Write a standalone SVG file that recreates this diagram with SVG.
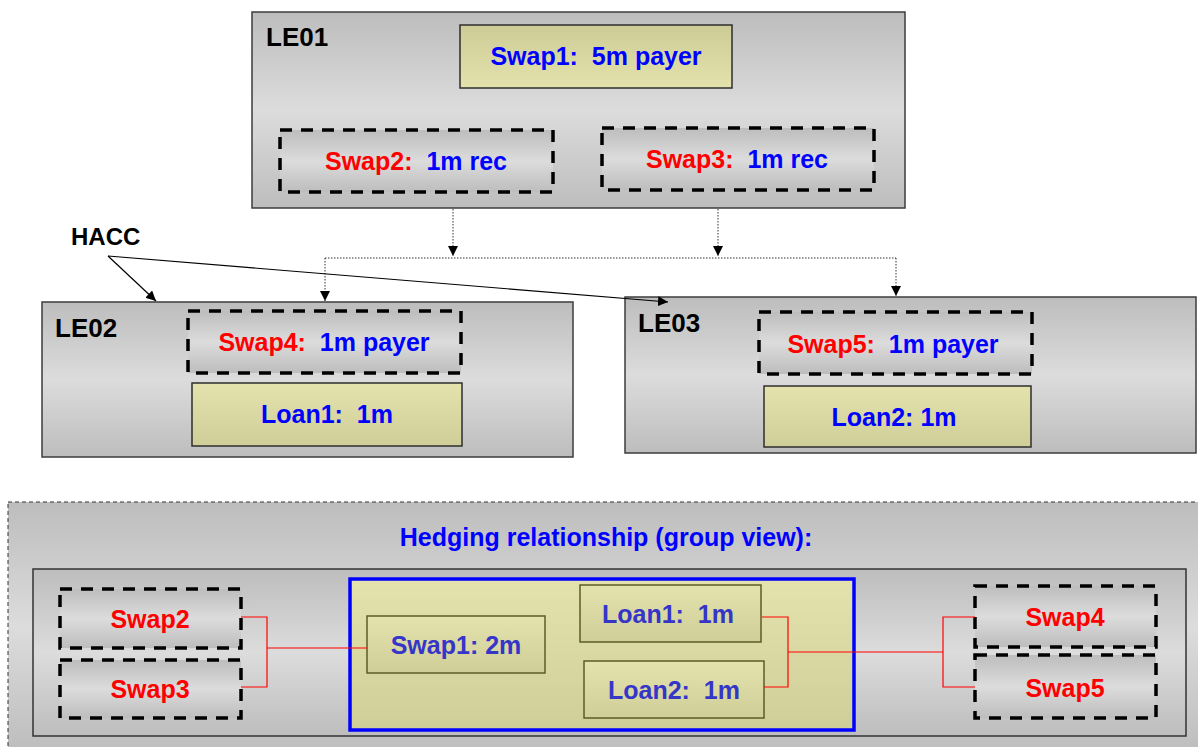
<svg xmlns="http://www.w3.org/2000/svg" width="1198" height="747" viewBox="0 0 1198 747">
<defs>
<linearGradient id="gGray" x1="0" y1="0" x2="0" y2="1">
<stop offset="0" stop-color="#bdbdbd"/><stop offset="0.5" stop-color="#dcdcdc"/><stop offset="1" stop-color="#bdbdbd"/>
</linearGradient>
<linearGradient id="gKhakiUp" x1="0" y1="0" x2="0" y2="1">
<stop offset="0" stop-color="#cdcb96"/><stop offset="1" stop-color="#e3e2ad"/>
</linearGradient>
<linearGradient id="gKhakiDown" x1="0" y1="0" x2="0" y2="1">
<stop offset="0" stop-color="#e4e3ae"/><stop offset="1" stop-color="#cfcd98"/>
</linearGradient>
<marker id="arr" markerWidth="10" markerHeight="10" viewBox="0 0 10 10" refX="10" refY="5" orient="auto" markerUnits="userSpaceOnUse">
<path d="M0,0 L10,5 L0,10 z" fill="#000"/>
</marker>
</defs>
<style>
text{font-family:"Liberation Sans",Arial,sans-serif;font-weight:bold;white-space:pre;}
.le{fill:url(#gGray);stroke:#3c3c3c;stroke-width:1.5;}
.dash{fill:url(#gGray);stroke:#000;stroke-width:3.5;stroke-dasharray:12 9;}
.kh{fill:url(#gKhakiUp);stroke:#2e2e2e;stroke-width:1.5;}
.khd{fill:url(#gKhakiDown);stroke:#2e2e2e;stroke-width:1.5;}
.khb{fill:url(#gKhakiDown);stroke:#5c5c2a;stroke-width:1.5;}
.t{font-size:25px;text-anchor:middle;}
.lbl{font-size:26px;fill:#000;}
.red{fill:#ff0000;}
.blue{fill:#0000ff;}
.mb{fill:#3535c8;}
.dot{stroke:#333;stroke-width:1;stroke-dasharray:1.5 1.5;fill:none;}
.solid{stroke:#000;stroke-width:1.2;fill:none;}
.rl{stroke:#ff0000;stroke-width:1.2;fill:none;}
</style>

<g id="LE01">
<rect class="le" x="252" y="12" width="653" height="196"/>
<text class="lbl" x="266" y="46">LE01</text>
</g>
<g id="Swap1-top">
<rect class="kh" x="460" y="25" width="272" height="63"/>
<text class="t blue" x="596" y="65" xml:space="preserve">Swap1:  5m payer</text>
</g>
<g id="Swap2-top">
<rect class="dash" x="280" y="130" width="273" height="62"/>
<text class="t" x="416" y="170" xml:space="preserve"><tspan class="red">Swap2:  </tspan><tspan class="blue">1m rec</tspan></text>
</g>
<g id="Swap3-top">
<rect class="dash" x="602" y="128" width="272" height="62"/>
<text class="t" x="737" y="168" xml:space="preserve"><tspan class="red">Swap3:  </tspan><tspan class="blue">1m rec</tspan></text>
</g>

<g id="LE02">
<rect class="le" x="42" y="302" width="531" height="155"/>
<text class="lbl" x="55" y="337">LE02</text>
</g>
<g id="Swap4-top">
<rect class="dash" x="188" y="311" width="273" height="62"/>
<text class="t" x="324" y="351" xml:space="preserve"><tspan class="red">Swap4:  </tspan><tspan class="blue">1m payer</tspan></text>
</g>
<g id="Loan1-top">
<rect class="khd" x="192" y="383" width="270" height="63"/>
<text class="t blue" x="327" y="423" xml:space="preserve">Loan1:  1m</text>
</g>

<g id="LE03">
<rect class="le" x="625" y="297" width="571" height="156"/>
<text class="lbl" x="638" y="332">LE03</text>
</g>
<g id="Swap5-top">
<rect class="dash" x="759" y="312" width="273" height="62"/>
<text class="t" x="893" y="353" xml:space="preserve"><tspan class="red">Swap5:  </tspan><tspan class="blue">1m payer</tspan></text>
</g>
<g id="Loan2-top">
<rect class="khd" x="764" y="386" width="267" height="61"/>
<text class="t blue" x="894" y="426" xml:space="preserve">Loan2: 1m</text>
</g>

<g id="HACC">
<text class="lbl" x="71" y="245" style="font-size:24px">HACC</text>
</g>

<g id="connectors">
<path class="dot" d="M453,209 V256" marker-end="url(#arr)"/>
<path class="dot" d="M718,209 V256" marker-end="url(#arr)"/>
<path class="dot" d="M325,258 H896"/>
<path class="dot" d="M325,258 V301" marker-end="url(#arr)"/>
<path class="dot" d="M896,258 V296" marker-end="url(#arr)"/>
<path class="solid" d="M108,256 L156,301" marker-end="url(#arr)"/>
<path class="solid" d="M108,256 L668,302" marker-end="url(#arr)"/>
</g>

<g id="group-view">
<rect x="8" y="502" width="1195" height="250" fill="url(#gGray)" stroke="#333" stroke-width="1" stroke-dasharray="4 3"/>
<text class="blue" x="606" y="546" style="font-size:25px;text-anchor:middle">Hedging relationship (group view):</text>
<rect x="33" y="569" width="1153" height="167" fill="url(#gGray)" stroke="#333" stroke-width="1.5"/>
</g>
<g id="hedge-box">
<rect x="350" y="579" width="504" height="151" fill="url(#gKhakiDown)" stroke="#0000ff" stroke-width="3.5"/>
</g>
<g id="Swap1-g">
<rect class="khb" x="367" y="616" width="178" height="57"/>
<text class="t mb" x="456" y="654" xml:space="preserve">Swap1: 2m</text>
</g>
<g id="Loan1-g">
<rect class="khb" x="580" y="585" width="181" height="57"/>
<text class="t mb" x="668" y="623" xml:space="preserve">Loan1:  1m</text>
</g>
<g id="Loan2-g">
<rect class="khb" x="584" y="661" width="180" height="57"/>
<text class="t mb" x="674" y="699" xml:space="preserve">Loan2:  1m</text>
</g>
<g id="Swap2-g">
<rect class="dash" x="60" y="589" width="181" height="59"/>
<text class="t red" x="150" y="628">Swap2</text>
</g>
<g id="Swap3-g">
<rect class="dash" x="60" y="660" width="181" height="58"/>
<text class="t red" x="150" y="698">Swap3</text>
</g>
<g id="Swap4-g">
<rect class="dash" x="975" y="586" width="181" height="61"/>
<text class="t red" x="1065" y="626">Swap4</text>
</g>
<g id="Swap5-g">
<rect class="dash" x="975" y="655" width="181" height="63"/>
<text class="t red" x="1065" y="697">Swap5</text>
</g>
<g id="group-connectors">
<path class="rl" d="M241,617 H267 V687 H241 M267,648 H367"/>
<path class="rl" d="M762,617 H788 V687 H764 M788,652 H943 M975,617 H943 V687 H975"/>
</g>
</svg>
